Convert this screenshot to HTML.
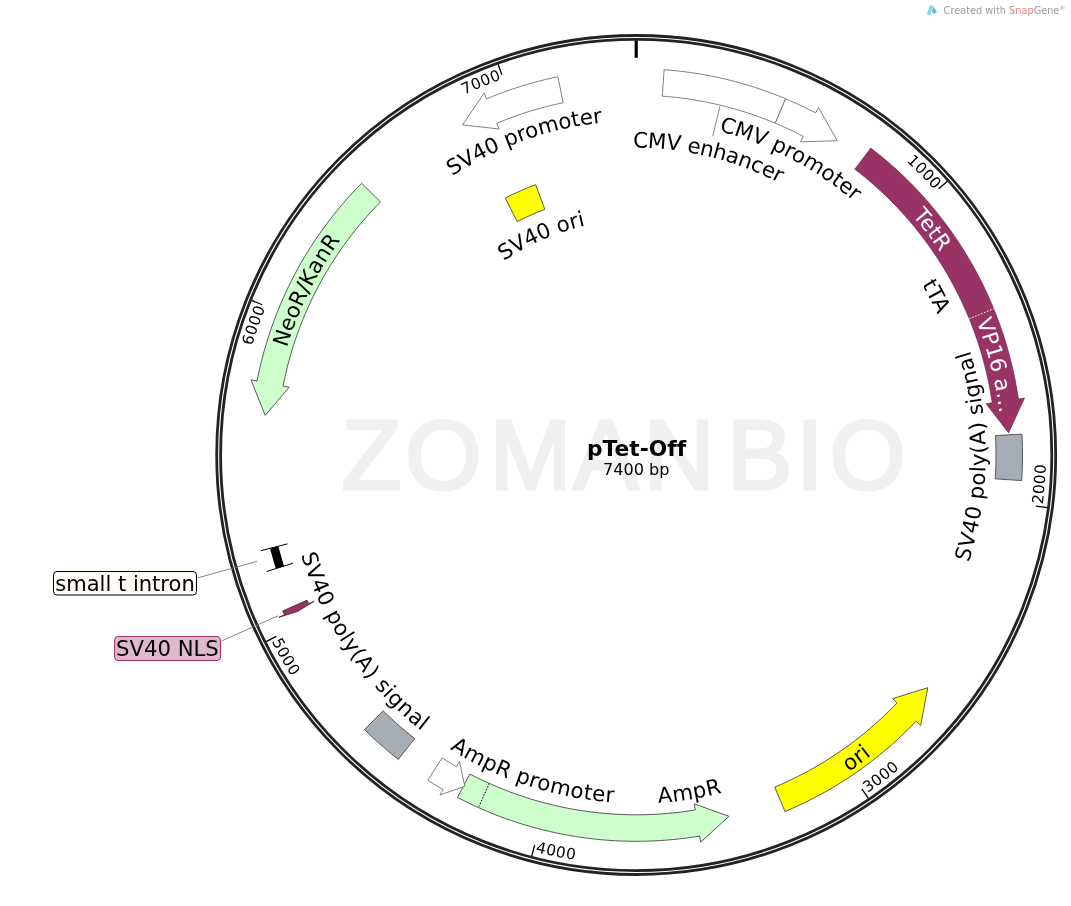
<!DOCTYPE html>
<html><head><meta charset="utf-8"><title>pTet-Off</title>
<style>
html,body{margin:0;padding:0;background:#fff;}
body{width:1071px;height:906px;overflow:hidden;}
svg{display:block;font-family:"DejaVu Sans","Liberation Sans",sans-serif;}
</style></head><body>
<svg width="1071" height="906" viewBox="0 0 1071 906">
<defs>
<path id="p1" d="M934.47,189.98 A399.00,399.00 0 1 1 337.93,720.02 A399.00,399.00 0 1 1 934.47,189.98"/>
<path id="p2" d="M1042.69,504.53 A409.50,409.50 0 1 0 229.71,405.47 A409.50,409.50 0 1 0 1042.69,504.53"/>
<path id="p3" d="M867.58,792.87 A409.50,409.50 0 1 0 404.82,117.13 A409.50,409.50 0 1 0 867.58,792.87"/>
<path id="p4" d="M535.44,851.91 A409.50,409.50 0 1 0 736.96,58.09 A409.50,409.50 0 1 0 535.44,851.91"/>
<path id="p5" d="M271.68,641.59 A409.50,409.50 0 1 0 1000.72,268.41 A409.50,409.50 0 1 0 271.68,641.59"/>
<path id="p6" d="M265.28,307.98 A399.00,399.00 0 1 1 1007.12,602.02 A399.00,399.00 0 1 1 265.28,307.98"/>
<path id="p7" d="M501.51,79.42 A399.00,399.00 0 1 1 770.89,830.58 A399.00,399.00 0 1 1 501.51,79.42"/>
<path id="p8" d="M481.98,751.26 A334.00,334.00 0 1 1 790.42,158.74 A334.00,334.00 0 1 1 481.98,751.26"/>
<path id="p9" d="M564.27,753.45 A307.00,307.00 0 1 1 708.13,156.55 A307.00,307.00 0 1 1 564.27,753.45"/>
<path id="p10" d="M345.45,676.49 A365.50,365.50 0 1 1 926.95,233.51 A365.50,365.50 0 1 1 345.45,676.49"/>
<path id="p11" d="M281.56,543.42 A365.50,365.50 0 1 1 990.84,366.58 A365.50,365.50 0 1 1 281.56,543.42"/>
<path id="p12" d="M342.35,610.59 A332.50,332.50 0 1 1 930.05,299.41 A332.50,332.50 0 1 1 342.35,610.59"/>
<path id="p13" d="M286.70,453.78 A349.50,349.50 0 1 0 985.70,456.22 A349.50,349.50 0 1 0 286.70,453.78"/>
<path id="p14" d="M411.96,146.36 A381.50,381.50 0 1 0 860.44,763.64 A381.50,381.50 0 1 0 411.96,146.36"/>
<path id="p15" d="M581.68,110.79 A348.50,348.50 0 1 0 690.72,799.21 A348.50,348.50 0 1 0 581.68,110.79"/>
<path id="p16" d="M743.74,124.03 A348.00,348.00 0 1 0 528.66,785.97 A348.00,348.00 0 1 0 743.74,124.03"/>
<path id="p17" d="M924.16,257.83 A349.00,349.00 0 1 0 348.24,652.17 A349.00,349.00 0 1 0 924.16,257.83"/>
<path id="p18" d="M963.16,618.37 A365.50,365.50 0 1 1 309.24,291.63 A365.50,365.50 0 1 1 963.16,618.37"/>
<path id="p19" d="M748.24,769.65 A334.00,334.00 0 1 1 524.16,140.35 A334.00,334.00 0 1 1 748.24,769.65"/>
<path id="p20" d="M729.45,670.49 A234.80,234.80 0 1 1 542.95,239.51 A234.80,234.80 0 1 1 729.45,670.49"/>
</defs>
<text x="341.4 405.2 489.7 573.2 643.75 726.9 795.9 829.45" y="488.7" font-family="'Liberation Sans', sans-serif" font-size="98" fill="#f0f0f0" stroke="#f0f0f0" stroke-width="3.2" stroke-linejoin="miter">ZOMANBIO</text>
<circle cx="636.20" cy="455.00" r="419.5" fill="none" stroke="#232323" stroke-width="2.8"/>
<circle cx="636.20" cy="455.00" r="415.6" fill="none" stroke="#232323" stroke-width="2.8"/>
<line x1="636.20" y1="40.50" x2="636.20" y2="57.80" stroke="#000" stroke-width="3.2"/>
<line x1="947.35" y1="181.15" x2="938.72" y2="188.75" stroke="#000" stroke-width="1.3"/>
<text font-size="15.33" fill="#000" font-weight="normal"  letter-spacing="0.3"><textPath href="#p1" startOffset="100%" text-anchor="end">1000</textPath></text>
<line x1="1047.34" y1="507.65" x2="1035.94" y2="506.19" stroke="#000" stroke-width="1.3"/>
<text font-size="15.33" fill="#000" font-weight="normal"  letter-spacing="0.4"><textPath href="#p2" startOffset="0" text-anchor="start">2000</textPath></text>
<line x1="868.31" y1="798.42" x2="861.87" y2="788.89" stroke="#000" stroke-width="1.3"/>
<text font-size="15.33" fill="#000" font-weight="normal"  letter-spacing="0.4"><textPath href="#p3" startOffset="0" text-anchor="start">3000</textPath></text>
<line x1="531.76" y1="856.13" x2="534.65" y2="845.00" stroke="#000" stroke-width="1.3"/>
<text font-size="15.33" fill="#000" font-weight="normal"  letter-spacing="0.4"><textPath href="#p4" startOffset="0" text-anchor="start">4000</textPath></text>
<line x1="266.08" y1="641.61" x2="276.35" y2="636.43" stroke="#000" stroke-width="1.3"/>
<text font-size="15.33" fill="#000" font-weight="normal"  letter-spacing="0.4"><textPath href="#p5" startOffset="0" text-anchor="start">5000</textPath></text>
<line x1="251.59" y1="300.45" x2="262.26" y2="304.74" stroke="#000" stroke-width="1.3"/>
<text font-size="15.33" fill="#000" font-weight="normal"  letter-spacing="0.3"><textPath href="#p6" startOffset="100%" text-anchor="end">6000</textPath></text>
<line x1="498.11" y1="64.18" x2="501.94" y2="75.02" stroke="#000" stroke-width="1.3"/>
<text font-size="15.33" fill="#000" font-weight="normal"  letter-spacing="0.3"><textPath href="#p7" startOffset="100%" text-anchor="end">7000</textPath></text>
<path d="M664.16,69.71 L670.73,70.25 L677.30,70.89 L683.86,71.65 L690.40,72.52 L696.93,73.50 L703.44,74.60 L709.93,75.80 L716.39,77.12 L722.84,78.54 L729.26,80.08 L735.65,81.72 L742.01,83.47 L748.35,85.34 L754.64,87.31 L760.91,89.38 L767.14,91.57 L773.33,93.86 L779.48,96.25 L785.59,98.75 L775.34,123.19 L769.65,120.86 L763.92,118.63 L758.16,116.50 L752.35,114.46 L746.52,112.53 L740.65,110.70 L734.75,108.96 L728.83,107.33 L722.87,105.80 L716.90,104.37 L710.89,103.04 L704.87,101.81 L698.83,100.69 L692.76,99.67 L686.68,98.76 L680.59,97.95 L674.48,97.24 L668.37,96.64 L662.24,96.14 Z" fill="#fff" stroke="#6a6a6a" stroke-width="0.85" stroke-linejoin="miter"/>
<path d="M785.59,98.75 L791.69,101.37 L797.74,104.10 L803.75,106.93 L809.71,109.86 L815.62,112.89 L818.50,107.40 L837.19,140.72 L800.43,141.85 L803.31,136.36 L797.81,133.54 L792.26,130.81 L786.66,128.17 L781.02,125.63 L775.34,123.19 Z" fill="#fff" stroke="#6a6a6a" stroke-width="0.85" stroke-linejoin="miter"/>
<path d="M870.83,148.12 L876.06,152.19 L881.22,156.35 L886.31,160.60 L891.33,164.94 L896.27,169.36 L901.13,173.86 L905.92,178.45 L910.62,183.12 L915.25,187.87 L919.79,192.70 L924.25,197.60 L928.63,202.58 L932.92,207.64 L937.12,212.77 L941.23,217.97 L945.25,223.24 L949.18,228.58 L953.02,233.98 L956.77,239.45 L960.42,244.98 L963.98,250.58 L967.44,256.23 L970.80,261.95 L974.07,267.72 L977.23,273.54 L980.29,279.42 L983.26,285.35 L986.12,291.34 L988.87,297.36 L991.53,303.44 L994.08,309.56 L996.52,315.72 L998.86,321.93 L1001.09,328.17 L1003.21,334.45 L1005.22,340.77 L1007.13,347.12 L1008.93,353.50 L1010.61,359.91 L1012.19,366.35 L1013.66,372.82 L1015.01,379.31 L1016.25,385.82 L1017.39,392.35 L1018.41,398.90 L1024.54,398.00 L1008.59,432.88 L986.05,403.65 L992.19,402.75 L991.24,396.65 L990.18,390.56 L989.03,384.50 L987.76,378.45 L986.40,372.43 L984.93,366.43 L983.36,360.46 L981.68,354.52 L979.91,348.60 L978.03,342.72 L976.06,336.87 L973.98,331.06 L971.80,325.28 L969.53,319.54 L967.15,313.84 L964.68,308.18 L962.11,302.56 L959.45,296.99 L956.69,291.47 L953.84,285.99 L950.89,280.57 L947.85,275.19 L944.72,269.87 L941.49,264.60 L938.18,259.39 L934.78,254.24 L931.29,249.14 L927.71,244.11 L924.05,239.14 L920.31,234.23 L916.47,229.38 L912.56,224.61 L908.57,219.90 L904.49,215.26 L900.34,210.69 L896.11,206.19 L891.80,201.77 L887.41,197.42 L882.96,193.15 L878.43,188.95 L873.83,184.83 L869.15,180.80 L864.41,176.84 L859.61,172.96 L854.73,169.17 Z" fill="#993366" stroke="#5a1f3d" stroke-width="0.6"/>
<line x1="969.21" y1="318.76" x2="993.74" y2="308.73" stroke="#fff" stroke-width="1" stroke-dasharray="1.6,1.6"/>
<path d="M1021.93,434.11 L1022.24,440.75 L1022.43,447.39 L1022.50,454.04 L1022.46,460.68 L1022.30,467.33 L1022.03,473.97 L1021.65,480.60 L995.21,478.85 L995.57,472.67 L995.82,466.48 L995.96,460.29 L996.00,454.10 L995.93,447.91 L995.76,441.73 L995.47,435.54 Z" fill="#A6ADB5" stroke="#4a4a4a" stroke-width="0.9" stroke-linejoin="miter"/>
<path d="M784.96,811.51 L791.11,808.88 L797.21,806.14 L803.27,803.31 L809.27,800.36 L815.22,797.31 L821.12,794.16 L826.96,790.91 L832.75,787.56 L838.47,784.11 L844.14,780.56 L849.74,776.91 L855.28,773.17 L860.75,769.33 L866.16,765.40 L871.50,761.37 L876.77,757.25 L881.96,753.04 L887.08,748.74 L892.13,744.36 L897.10,739.89 L901.99,735.33 L906.80,730.69 L911.53,725.96 L916.18,721.16 L920.67,725.43 L927.75,687.74 L892.48,698.63 L896.97,702.90 L892.64,707.37 L888.24,711.77 L883.76,716.10 L879.20,720.34 L874.57,724.51 L869.87,728.59 L865.10,732.60 L860.26,736.52 L855.36,740.35 L850.39,744.10 L845.35,747.77 L840.25,751.34 L835.09,754.83 L829.87,758.23 L824.60,761.53 L819.26,764.75 L813.87,767.87 L808.43,770.90 L802.94,773.83 L797.40,776.67 L791.81,779.41 L786.17,782.06 L780.49,784.60 L774.76,787.05 Z" fill="#FFFF00" stroke="#4a4a4a" stroke-width="0.9" stroke-linejoin="miter"/>
<path d="M457.53,797.50 L463.37,800.48 L469.27,803.37 L475.21,806.16 L481.20,808.84 L487.24,811.42 L493.32,813.90 L499.44,816.28 L505.60,818.55 L511.79,820.72 L518.03,822.78 L524.29,824.74 L530.59,826.58 L536.92,828.32 L543.28,829.96 L549.66,831.48 L556.07,832.90 L562.51,834.21 L568.96,835.40 L575.44,836.49 L581.93,837.47 L588.44,838.34 L594.96,839.09 L601.49,839.74 L608.03,840.27 L614.58,840.69 L621.14,841.01 L627.70,841.21 L634.27,841.30 L640.83,841.27 L647.39,841.14 L653.95,840.89 L660.51,840.53 L667.06,840.07 L673.60,839.49 L680.12,838.79 L686.64,837.99 L693.14,837.08 L699.63,836.06 L700.64,842.17 L728.97,816.33 L694.26,803.80 L695.27,809.92 L689.23,810.87 L683.18,811.72 L677.11,812.47 L671.03,813.11 L664.94,813.65 L658.84,814.09 L652.74,814.42 L646.63,814.65 L640.51,814.77 L634.40,814.80 L628.28,814.71 L622.17,814.53 L616.07,814.24 L609.96,813.84 L603.87,813.34 L597.79,812.74 L591.71,812.04 L585.65,811.23 L579.60,810.32 L573.57,809.31 L567.56,808.19 L561.57,806.98 L555.60,805.66 L549.65,804.24 L543.73,802.71 L537.84,801.09 L531.97,799.37 L526.13,797.55 L520.33,795.63 L514.56,793.61 L508.82,791.50 L503.12,789.28 L497.46,786.97 L491.84,784.57 L486.26,782.07 L480.72,779.47 L475.23,776.78 L469.78,774.00 Z" fill="#CCFFCC" stroke="#4a4a4a" stroke-width="0.9" stroke-linejoin="miter"/>
<line x1="489.28" y1="783.44" x2="478.46" y2="807.63" stroke="#000" stroke-width="1" stroke-dasharray="1.5,1.5"/>
<path d="M427.79,780.26 L432.83,783.43 L437.92,786.53 L443.05,789.55 L439.95,794.91 L464.81,786.35 L459.40,761.23 L456.30,766.60 L451.52,763.79 L446.78,760.90 L442.09,757.95 Z" fill="#fff" stroke="#6a6a6a" stroke-width="0.85" stroke-linejoin="miter"/>
<path d="M398.37,759.41 L393.32,755.39 L388.33,751.29 L383.42,747.11 L378.57,742.85 L373.80,738.51 L369.10,734.08 L364.48,729.58 L383.12,710.75 L387.43,714.94 L391.80,719.06 L396.25,723.10 L400.76,727.07 L405.34,730.97 L409.98,734.79 L414.69,738.53 Z" fill="#A6ADB5" stroke="#4a4a4a" stroke-width="0.9" stroke-linejoin="miter"/>
<path d="M282.75,610.89 L284.49,614.77 L278.84,617.33 L297.55,611.48 L314.26,601.24 L308.61,603.81 L307.00,600.20 Z" fill="#993366" stroke="#2a0a1a" stroke-width="0.7"/>
<line x1="293.05" y1="563.19" x2="266.73" y2="571.49" stroke="#000" stroke-width="1"/>
<line x1="287.55" y1="543.87" x2="260.80" y2="550.69" stroke="#000" stroke-width="1"/>
<line x1="279.84" y1="567.36" x2="274.13" y2="547.29" stroke="#000" stroke-width="8.6"/>
<path d="M361.62,183.28 L356.97,188.06 L352.40,192.92 L347.91,197.87 L343.51,202.88 L339.20,207.98 L334.98,213.14 L330.85,218.38 L326.81,223.69 L322.86,229.07 L319.00,234.52 L315.24,240.03 L311.58,245.60 L308.01,251.24 L304.54,256.94 L301.16,262.70 L297.89,268.52 L294.72,274.39 L291.65,280.31 L288.69,286.29 L285.83,292.32 L283.07,298.39 L280.42,304.52 L277.87,310.68 L275.43,316.90 L273.10,323.15 L270.88,329.44 L268.76,335.77 L266.76,342.13 L264.86,348.53 L263.08,354.96 L261.41,361.42 L259.85,367.91 L258.40,374.42 L257.06,380.96 L250.98,379.77 L265.26,415.36 L289.16,387.23 L283.07,386.04 L284.31,379.95 L285.66,373.88 L287.12,367.84 L288.67,361.82 L290.34,355.83 L292.10,349.88 L293.97,343.95 L295.94,338.05 L298.01,332.19 L300.18,326.37 L302.45,320.58 L304.82,314.84 L307.29,309.14 L309.86,303.48 L312.53,297.86 L315.29,292.30 L318.15,286.78 L321.10,281.31 L324.15,275.89 L327.29,270.53 L330.52,265.22 L333.84,259.97 L337.26,254.78 L340.76,249.64 L344.35,244.57 L348.03,239.56 L351.79,234.61 L355.64,229.74 L359.58,224.92 L363.59,220.18 L367.69,215.51 L371.87,210.90 L376.12,206.37 L380.45,201.92 Z" fill="#CCFFCC" stroke="#4a4a4a" stroke-width="0.9" stroke-linejoin="miter"/>
<path d="M557.86,76.73 L551.77,78.04 L545.69,79.45 L539.64,80.96 L533.62,82.57 L527.62,84.27 L521.65,86.08 L515.71,87.97 L509.80,89.97 L503.92,92.05 L498.08,94.24 L492.27,96.51 L486.50,98.88 L484.10,93.17 L462.50,124.86 L499.17,129.03 L496.77,123.31 L502.14,121.11 L507.55,118.99 L512.99,116.95 L518.47,115.01 L523.97,113.15 L529.50,111.38 L535.07,109.71 L540.65,108.12 L546.27,106.62 L551.90,105.21 L557.56,103.90 L563.24,102.68 Z" fill="#fff" stroke="#6a6a6a" stroke-width="0.85" stroke-linejoin="miter"/>
<path d="M505.27,198.03 L509.52,195.91 L513.80,193.86 L518.11,191.89 L522.45,189.98 L526.83,188.14 L531.24,186.38 L535.67,184.69 L544.87,209.43 L540.85,210.97 L536.84,212.57 L532.87,214.24 L528.92,215.97 L525.00,217.77 L521.11,219.63 L517.25,221.56 Z" fill="#FFFF00" stroke="#4a4a4a" stroke-width="0.9" stroke-linejoin="miter"/>
<line x1="719.84" y1="106.60" x2="712.77" y2="136.06" stroke="#777" stroke-width="0.9"/>
<text font-size="21.33" fill="#000" font-weight="normal"  letter-spacing="0"><textPath href="#p8" startOffset="50%" text-anchor="middle">CMV promoter</textPath></text>
<text font-size="21.33" fill="#000" font-weight="normal"  letter-spacing="-0.26"><textPath href="#p9" startOffset="50%" text-anchor="middle">CMV enhancer</textPath></text>
<text font-size="21.33" fill="#fff" font-weight="normal"  letter-spacing="0.25"><textPath href="#p10" startOffset="50%" text-anchor="middle">TetR</textPath></text>
<text font-size="21.33" fill="#fff" font-weight="normal"  letter-spacing="0"><textPath href="#p11" startOffset="50%" text-anchor="middle">VP16 a…</textPath></text>
<text font-size="21.33" fill="#000" font-weight="normal"  letter-spacing="0"><textPath href="#p12" startOffset="50%" text-anchor="middle">tTA</textPath></text>
<text font-size="21.33" fill="#000" font-weight="normal"  letter-spacing="0.4"><textPath href="#p13" startOffset="50%" text-anchor="middle">SV40 poly(A) signal</textPath></text>
<text font-size="21.33" fill="#000" font-weight="normal"  letter-spacing="0.4"><textPath href="#p14" startOffset="50%" text-anchor="middle">ori</textPath></text>
<text font-size="21.33" fill="#000" font-weight="normal"  letter-spacing="0.4"><textPath href="#p15" startOffset="50%" text-anchor="middle">AmpR</textPath></text>
<text font-size="21.33" fill="#000" font-weight="normal"  letter-spacing="0.4"><textPath href="#p16" startOffset="50%" text-anchor="middle">AmpR promoter</textPath></text>
<text font-size="21.33" fill="#000" font-weight="normal"  letter-spacing="0.47"><textPath href="#p17" startOffset="50%" text-anchor="middle">SV40 poly(A) signal</textPath></text>
<text font-size="21.33" fill="#000" font-weight="normal"  letter-spacing="0.25"><textPath href="#p18" startOffset="50%" text-anchor="middle">NeoR/KanR</textPath></text>
<text font-size="21.33" fill="#000" font-weight="normal"  letter-spacing="0"><textPath href="#p19" startOffset="50%" text-anchor="middle">SV40 promoter</textPath></text>
<text font-size="21.33" fill="#000" font-weight="normal"  letter-spacing="0"><textPath href="#p20" startOffset="50%" text-anchor="middle">SV40 ori</textPath></text>
<text x="636.6" y="456" text-anchor="middle" font-size="21.8" font-weight="bold" style="font-variant-ligatures:none">pTet-Off</text>
<text x="636.2" y="475" text-anchor="middle" font-size="16.1">7400 bp</text>
<line x1="198" y1="577.8" x2="257" y2="561.4" stroke="#777" stroke-width="0.9"/>
<line x1="222" y1="640.8" x2="278" y2="615.8" stroke="#777" stroke-width="0.9"/>
<rect x="53.5" y="571.5" width="143" height="23.5" rx="3.5" fill="#FFFDF6" stroke="#000" stroke-width="1"/>
<text x="125" y="590.5" text-anchor="middle" font-size="21.05">small t intron</text>
<rect x="114.6" y="636.5" width="105.9" height="24" rx="3.5" fill="#E0B8CC" stroke="#993366" stroke-width="1"/>
<text x="167.4" y="655.5" text-anchor="middle" font-size="21.2">SV40 NLS</text>
<path d="M929.8,5.3 L933.0,5.3 L930.4,15.7 L926.8,14.6 Z" fill="#86d6ec"/><path d="M933.1,6.4 L937.0,11.8 L934.6,13.6 L932.0,12.3 Z" fill="#4fbbe0"/>
<text x="943.6" y="13.6" font-size="9.75" fill="#9c9c9c">Created with <tspan fill="#e0857b">Snap</tspan>Gene<tspan font-size="6" dy="-3.2">®</tspan></text>
</svg>
</body></html>
